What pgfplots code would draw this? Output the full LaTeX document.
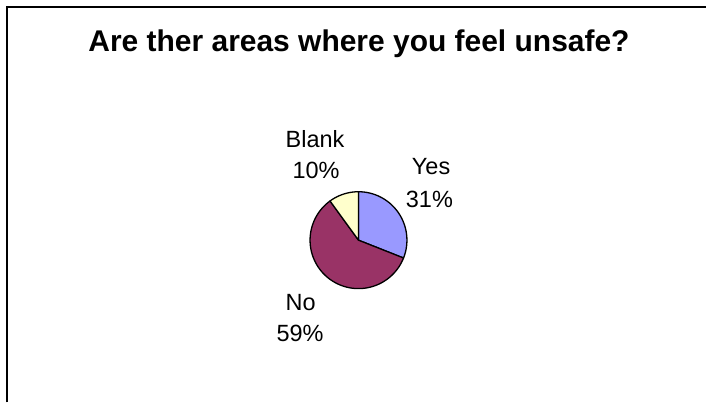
\documentclass[border=0pt]{standalone}
\usepackage{pgfplots}
\usepackage{pgfplotstable}
\pgfplotsset{compat=1.18}
\usepackage{fontspec}
\setmainfont{Liberation Sans}
\definecolor{cYes}{HTML}{9999FF}
\definecolor{cNo}{HTML}{993366}
\definecolor{cBlank}{HTML}{FFFFCC}
\pgfplotstableread{
label value
Yes 31
No 59
Blank 10
}\piedata
\begin{document}%
\pgfplotstablegetelem{0}{value}\of\piedata\pgfmathsetmacro\vYes{\pgfplotsretval}%
\pgfplotstablegetelem{1}{value}\of\piedata\pgfmathsetmacro\vNo{\pgfplotsretval}%
\pgfplotstablegetelem{2}{value}\of\piedata\pgfmathsetmacro\vBlank{\pgfplotsretval}%
\pgfmathsetmacro\aA{90}%
\pgfmathsetmacro\aB{\aA-3.6*\vYes}%
\pgfmathsetmacro\aC{\aB-3.6*\vNo}%
\pgfmathsetmacro\aD{\aC-3.6*\vBlank}%
\def\cx{359}\def\cy{240.5}\def\rr{48.5}%
\begin{tikzpicture}
\begin{axis}[
  x=1bp, y=1bp, y dir=reverse,
  xmin=0, xmax=707, ymin=0, ymax=403,
  hide axis, clip=false,
]
\path (axis cs:0,0) rectangle (axis cs:707,403);
\addplot[fill=cYes, draw=black, line width=1.3bp, domain=\aB:\aA, samples=80, line join=round]
  ({\cx+\rr*cos(x)},{\cy-\rr*sin(x)}) -- (axis cs:\cx,\cy) -- cycle;
\addplot[fill=cNo, draw=black, line width=1.3bp, domain=\aC:\aB, samples=120, line join=round]
  ({\cx+\rr*cos(x)},{\cy-\rr*sin(x)}) -- (axis cs:\cx,\cy) -- cycle;
\addplot[fill=cBlank, draw=black, line width=1.3bp, domain=\aD:\aC, samples=40, line join=round]
  ({\cx+\rr*cos(x)},{\cy-\rr*sin(x)}) -- (axis cs:\cx,\cy) -- cycle;
\draw[line width=2bp] (axis cs:7,403) -- (axis cs:7,7) -- (axis cs:707,7);
\node[anchor=base, font=\fontsize{30bp}{32bp}\selectfont\bfseries, inner sep=0pt] at (axis cs:359.5,52) {Are ther areas where you feel unsafe?};
\begin{scope}[every node/.style={anchor=base, inner sep=0pt, font=\fontsize{23.5bp}{28bp}\selectfont}]
\node at (axis cs:315.5,147.3) {Blank};
\node at (axis cs:316.5,179) {10\%};
\node at (axis cs:431.7,175) {Yes};
\node at (axis cs:430,208) {31\%};
\node at (axis cs:301,311) {No};
\node at (axis cs:300.5,342) {59\%};
\end{scope}
\end{axis}
\end{tikzpicture}%
\end{document}
